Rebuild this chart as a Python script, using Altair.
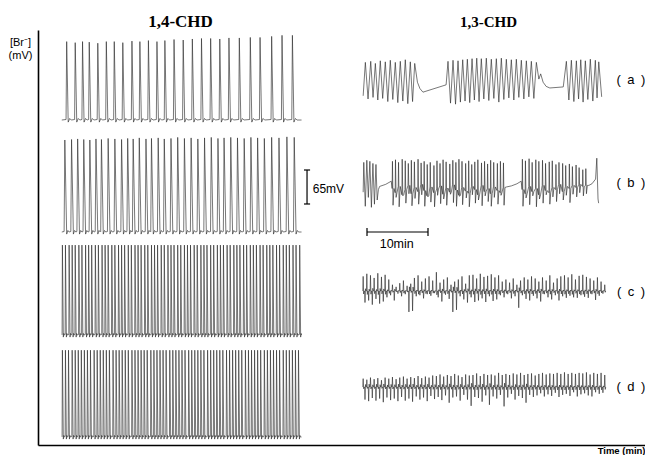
import altair as alt
import pandas as pd

# ---------------- values ----------------
# time in minutes (origin at the vertical axis), potential in mV (origin at the time axis)

# 1,4-CHD, row 1: spike times and spike heights above the trace baseline
T1_TIMES = [4.7, 6.1, 7.3, 8.4, 9.8, 11.2, 12.5, 13.9, 15.4, 16.7, 18.1, 19.5, 20.8,
            22.3, 23.8, 25.3, 26.8, 28.3, 29.8, 31.3, 33.0, 34.8, 36.4, 38.3, 40.0, 41.7]
T1_PEAKS = [150, 148, 150, 149, 147, 150, 150, 148, 151, 150, 152, 150, 152,
            154, 153, 155, 156, 156, 155, 157, 157, 158, 158, 160, 162, 162]

# 1,4-CHD, row 2
T2_TIMES = [4.4, 5.5, 6.5, 7.5, 8.5, 9.5, 10.4, 11.5, 12.6, 13.7, 14.7, 15.6, 16.6,
            17.7, 18.6, 19.7, 20.7, 21.8, 22.9, 24.0, 25.1, 26.2, 27.3, 28.4, 29.5,
            30.5, 31.6, 32.7, 33.8, 34.9, 36.0, 37.1, 38.3, 39.5, 40.8, 42.0]
T2_PEAKS = [176, 177, 178, 177, 176, 178, 177, 179, 178, 177, 179, 178, 180, 178, 179,
            180, 178, 179, 181, 179, 180, 178, 180, 181, 179, 180, 181, 180, 179, 181,
            180, 179, 181, 180, 182, 181]

# 1,4-CHD, row 3
T3_TIMES = [4.0, 4.5, 5.1, 5.6, 6.1, 6.7, 7.2, 7.8, 8.3, 8.8, 9.4, 9.9, 10.5, 11.0, 11.5,
            12.1, 12.6, 13.2, 13.7, 14.2, 14.8, 15.3, 15.9, 16.4, 16.9, 17.5, 18.0, 18.6,
            19.1, 19.6, 20.2, 20.7, 21.3, 21.8, 22.3, 22.9, 23.4, 24.0, 24.5, 25.0, 25.6,
            26.1, 26.7, 27.2, 27.7, 28.3, 28.8, 29.4, 29.9, 30.4, 31.0, 31.5, 32.1, 32.6,
            33.1, 33.7, 34.2, 34.8, 35.3, 35.8, 36.4, 36.9, 37.5, 38.0, 38.5, 39.1, 39.6,
            40.2, 40.7, 41.2, 41.8, 42.3, 42.9]
T3_PEAK = 172

# 1,4-CHD, row 4
T4_TIMES = [4.0, 4.5, 5.0, 5.6, 6.1, 6.6, 7.1, 7.6, 8.1, 8.6, 9.2, 9.7, 10.2, 10.7, 11.2,
            11.7, 12.3, 12.8, 13.3, 13.8, 14.3, 14.8, 15.4, 15.9, 16.4, 16.9, 17.4, 17.9,
            18.5, 19.0, 19.5, 20.0, 20.5, 21.0, 21.6, 22.1, 22.6, 23.1, 23.6, 24.1, 24.7,
            25.2, 25.7, 26.2, 26.7, 27.2, 27.8, 28.3, 28.8, 29.3, 29.8, 30.3, 30.9, 31.4,
            31.9, 32.4, 32.9, 33.4, 34.0, 34.5, 35.0, 35.5, 36.0, 36.5, 37.1, 37.6, 38.1,
            38.6, 39.1, 39.6, 40.2, 40.7, 41.2, 41.7, 42.2, 42.7]
T4_PEAK = 166

# 1,3-CHD (a): recorded trace, mV above the trace reference level
A_T = [53.3, 53.66, 54.1, 54.54, 54.92, 55.3, 55.7, 56.11, 56.5, 56.93, 57.34, 57.75,
       58.16, 58.57, 58.98, 59.39, 59.8, 60.21, 60.62, 61.03, 61.4, 61.75,
       62.2, 62.6, 63.1, 66.9,
       67.21, 67.62, 68.03, 68.44, 68.85, 69.24, 69.62, 70.0, 70.38, 70.77,
       71.15, 71.53, 71.92, 72.3, 72.67, 73.08, 73.49, 73.9, 74.31, 74.72,
       75.13, 75.54, 75.95, 76.36, 76.77, 77.18, 77.59, 78.0, 78.41, 78.82,
       79.23, 79.64, 80.05, 80.46, 80.87, 81.28, 81.69,
       82.1, 82.4, 82.8, 83.3, 83.9, 86.1,
       86.61, 87.02, 87.43, 87.84, 88.25, 88.61, 88.97, 89.35, 89.72, 90.13,
       90.54, 90.95, 91.36, 91.64, 91.92, 92.4]
A_V = [8, 72, 2, 74, 5, 70, 0, 75, 3, 73, -3, 76, 1, 72, -5, 74, -2, 77, -7, 73, -3, 70,
       34, 22, 15, 29,
       74, -6, 76, -8, 75, -4, 77, -2, 78, -5, 79, 0, 80, -3, 79, 2, 80, -1, 78, 3,
       79, -4, 80, 1, 78, 4, 77, 0, 78, 5, 76, 2, 75, 6, 74, 3, 72,
       40, 50, 34, 26, 23, 25,
       74, 0, 76, -3, 75, 2, 77, -4, 75, 1, 78, -2, 76, 4, 73, 6]

# 1,3-CHD (b)
B_PRE_T = [53.3, 53.4, 53.65, 53.9, 54.15, 54.4, 54.65, 54.9, 55.15, 55.4, 55.6, 55.8, 56.0, 57.0, 57.9]
B_PRE_V = [15, 72, -12, 76, 5, 74, -14, 70, -8, 68, 0, 20, 26, 30, 36]
B1_TIMES = [58.1, 58.6, 59.1, 59.7, 60.2, 60.7, 61.2, 61.7, 62.3, 62.8, 63.3, 63.8, 64.3,
            64.9, 65.4, 65.9, 66.4, 66.9, 67.5, 68.0, 68.5, 69.0, 69.5, 70.1, 70.6, 71.1,
            71.6, 72.1, 72.7, 73.2, 73.7, 74.2, 74.7, 75.3, 75.8, 76.3]
B1_PEAKS = [74, 77, 72, 78, 75, 70, 76, 73, 78, 71, 74, 68, 72, 66, 75, 70, 77, 73, 69, 76,
            72, 78, 74, 70, 75, 68, 73, 77, 71, 74, 69, 76, 72, 70, 74, 71]
B1_LOWS = [-10, 5, -13, 8, -6, 12, -11, 3, -8, 10, -12, 6, -4, -13, 9, -7, 2, -10, 11, -5,
           -12, 7, -9, 4, -13, 10, -6, 0, -11, 8, -3, -12, 5, -8, 9, -10]
B1_MIDS = [22, 14, 26, 10, 20, 28, 12, 24, 16, 30, 18, 8, 25, 14, 21, 27, 11, 23, 15, 29,
           19, 9, 24, 17, 13, 26, 20, 10, 28, 16, 22, 12, 25, 18, 14, 24]
B_MID_T = [76.8, 77.6, 78.5, 79.2]
B_MID_V = [25, 27, 31, 36]
B2_TIMES = [79.4, 79.9, 80.5, 81.0, 81.6, 82.1, 82.7, 83.2, 83.8, 84.3, 84.9, 85.4, 86.0,
            86.5, 87.1, 87.6, 88.2, 88.7, 89.3, 89.8]
B2_PEAKS = [78, 75, 79, 72, 77, 74, 76, 70, 73, 75, 68, 72, 70, 66, 69, 64, 67, 62, 58, 60]
B2_LOWS = [-12, 4, -9, 8, -13, 2, -6, 10, -8, 6, -3, 12, 0, 9, -5, 11, 6, 14, 8, 12]
B2_MIDS = [20, 12, 26, 16, 22, 10, 28, 18, 14, 24, 20, 30, 16, 26, 22, 28, 24, 30, 26, 28]
B_END_T = [90.3, 90.8, 91.4, 91.6, 91.8, 91.9]
B_END_V = [28, 31, 40, 80, 2, -6]

# 1,3-CHD (c) and (d): spike extremes sampled every C_STEP minutes from C_T0
C_T0 = 53.3
C_STEP = 0.3
C_VALUES = [28, -22, 33, -18, 30, -26, 25, -15, 34, -24,
            27, -20, 31, -12, 22, -8, 12, -18, 8, -5,
            15, -10, 20, -6, 10, -40, 14, -38, 25, -10,
            30, -8, 18, -14, 24, -6, 28, -9, 20, -4,
            36, -12, 16, -20, 22, -7, 26, -15, 12, -40,
            18, -36, 22, -10, 28, -16, 14, -22, 30, -12,
            31, -21, 24, -18, 33, -14, 27, -21, 29, -10,
            32, -19, 26, -16, 30, -8, 18, -12, 22, -6,
            16, -14, 24, -10, 12, -32, 20, -8, 26, -15,
            22, -18, 28, -9, 24, -14, 18, -20, 26, -6,
            20, -12, 30, -16, 16, -8, 24, -18, 28, -10,
            30, -13, 26, -9, 32, -12, 22, -13, 29, -8,
            31, -11, 27, -13, 24, -6, 20, -17, 26, -9,
            18, -5, 12]
D_VALUES = [16, -24, 14, -27, 18, -21, 15, -26, 17, -22,
            13, -29, 18, -20, 16, -25, 19, -22, 15, -27,
            18, -19, 20, -26, 16, -22, 19, -28, 17, -18,
            21, -24, 17, -20, 20, -27, 18, -17, 22, -23,
            21, -19, 24, -25, 20, -16, 23, -30, 21, -20,
            25, -18, 22, -26, 19, -15, 24, -24, 22, -36,
            23, -19, 26, -21, 21, -28, 25, -16, 23, -34,
            24, -18, 22, -22, 27, -15, 23, -37, 25, -20,
            23, -13, 26, -24, 24, -17, 27, -21, 23, -30,
            25, -15, 26, -19, 22, -16, 25, -12, 27, -18,
            24, -14, 26, -17, 25, -11, 27, -19, 25, -15,
            28, -13, 25, -17, 27, -10, 25, -18, 27, -14,
            26, -12, 28, -16, 24, -18, 27, -10, 25, -13,
            27, -11, 23]

SCALE_MV = 65      # vertical scale bar
SCALE_MIN = 10     # horizontal scale bar

# ---------------- layout (trace reference levels on the shared axes) ----------------
ROW_BASE = {"r1": 631.2, "r2": 417.0, "r3": 220.0, "r4": 24.9}
RIGHT_BASE = {"a": 669.5, "b": 478.2, "c": 304.1, "d": 120.5}
LEFT_START, LEFT_END = 3.9, 43.2

rows = []


def add(trace, pts):
    for i, (t, v) in enumerate(pts):
        rows.append({"trace": trace, "i": i, "t": round(t, 3), "v": round(v, 2)})


def spike_train(times, peaks, base, r, f, h):
    pts = [(LEFT_START, base)]
    for t, p in zip(times, peaks):
        pts += [(t - r, base + 1), (t, base + p), (t + f, base - 4),
                (t + f + h, base + 3), (t + f + 2 * h, base)]
    pts.append((LEFT_END, base))
    return pts


add("r1", spike_train(T1_TIMES, T1_PEAKS, ROW_BASE["r1"], 0.1, 0.25, 0.25))
add("r2", spike_train(T2_TIMES, T2_PEAKS, ROW_BASE["r2"], 0.12, 0.3, 0.2))
add("r3", spike_train(T3_TIMES, [T3_PEAK] * len(T3_TIMES), ROW_BASE["r3"], 0.05, 0.15, 0.08))
add("r4", spike_train(T4_TIMES, [T4_PEAK] * len(T4_TIMES), ROW_BASE["r4"], 0.05, 0.15, 0.08))

add("a", [(t, RIGHT_BASE["a"] + v) for t, v in zip(A_T, A_V)])


def burst(times, peaks, lows, mids, base):
    pts = []
    for k, (t, p, lo, m) in enumerate(zip(times, peaks, lows, mids)):
        g = (times[k + 1] - t) if k + 1 < len(times) else (t - times[k - 1])
        pts += [(t - 0.05, base + m), (t, base + p), (t + 0.1, base + lo),
                (t + 0.3 * g + 0.1, base + m)]
    return pts


bb = RIGHT_BASE["b"]
b_pts = [(t, bb + v) for t, v in zip(B_PRE_T, B_PRE_V)]
b_pts += burst(B1_TIMES, B1_PEAKS, B1_LOWS, B1_MIDS, bb)
b_pts += [(t, bb + v) for t, v in zip(B_MID_T, B_MID_V)]
b_pts += burst(B2_TIMES, B2_PEAKS, B2_LOWS, B2_MIDS, bb)
b_pts += [(t, bb + v) for t, v in zip(B_END_T, B_END_V)]
add("b", b_pts)


def noisy(values, base):
    pts = []
    for k, v in enumerate(values):
        t = C_T0 + C_STEP * k
        pts += [(t - 0.06, base), (t, base + v), (t + 0.08, base - 0.2 * v), (t + 0.16, base)]
    return pts


add("c", noisy(C_VALUES, RIGHT_BASE["c"]))
add("d", noisy(D_VALUES, RIGHT_BASE["d"]))

traces = pd.DataFrame(rows)

# scale bars
bar_t, bar_v = 44.1, 470.6
hb_t, hb_v = 53.93, 417.0
bars = pd.DataFrame([
    {"t": bar_t, "t2": bar_t, "v": bar_v, "v2": bar_v + SCALE_MV},
    {"t": bar_t - 0.5, "t2": bar_t + 0.5, "v": bar_v, "v2": bar_v},
    {"t": bar_t - 0.5, "t2": bar_t + 0.5, "v": bar_v + SCALE_MV, "v2": bar_v + SCALE_MV},
    {"t": hb_t, "t2": hb_t + SCALE_MIN, "v": hb_v, "v2": hb_v},
    {"t": hb_t, "t2": hb_t, "v": hb_v - 7.7, "v2": hb_v + 7.7},
    {"t": hb_t + SCALE_MIN, "t2": hb_t + SCALE_MIN, "v": hb_v - 7.7, "v2": hb_v + 7.7},
])

titles = pd.DataFrame([
    {"label": "1,4-CHD", "t": 23.36, "v": 810.0, "size": 17},
    {"label": "1,3-CHD", "t": 73.85, "v": 810.0, "size": 15},
])
labels = pd.DataFrame([
    {"label": f"{SCALE_MV}mV", "t": 47.6, "v": 499.2, "size": 12},
    {"label": f"{SCALE_MIN}min", "t": 58.8, "v": 394.0, "size": 12.5},
    {"label": "(\u2002a\u2002)", "t": 97.2, "v": 707.7, "size": 13},
    {"label": "(\u2002b\u2002)", "t": 97.2, "v": 510.7, "size": 13},
    {"label": "(\u2002c\u2002)", "t": 97.2, "v": 302.2, "size": 13},
    {"label": "(\u2002d\u2002)", "t": 97.2, "v": 120.5, "size": 13},
])

# the time axis sits at the bottom edge of the plot; top of the plot is 803.4 mV
xs = alt.Scale(domain=[0, 99.5], nice=False, zero=False)
ys = alt.Scale(domain=[9.6, 803.4], nice=False, zero=False)
x_axis = alt.Axis(title="Time (min)", ticks=False, labels=False, grid=False,
                  domainColor="black", domainWidth=1.6,
                  titleFont="Liberation Sans", titleFontSize=9.5, titleFontWeight="bold",
                  titleColor="black", titleX=607, titleY=8, titleAlign="right",
                  titleBaseline="alphabetic")
y_axis = alt.Axis(title=["[Br\u207b]", "(mV)"], ticks=False, labels=False, grid=False,
                  domainColor="black", domainWidth=1.6, titleAngle=0, titleX=-18,
                  titleY=6, titleAlign="center", titleBaseline="top",
                  titleFont="Liberation Sans", titleFontSize=11, titleFontWeight="normal",
                  titleColor="black", titleLineHeight=13)


def X(f):
    return alt.X(f, type="quantitative", scale=xs, axis=x_axis)


def Y(f):
    return alt.Y(f, type="quantitative", scale=ys, axis=y_axis)


line_layer = alt.Chart(traces).mark_line(color="#2b2b2b", strokeWidth=0.75, opacity=0.85).encode(
    x=X("t"), y=Y("v"), detail="trace:N", order="i:Q")

bar_layer = alt.Chart(bars).mark_rule(color="black", strokeWidth=1.2).encode(
    x=X("t"), x2="t2:Q", y=Y("v"), y2="v2:Q")

title_layer = alt.Chart(titles).mark_text(font="Liberation Serif", fontWeight="bold",
                                          align="center", baseline="alphabetic",
                                          color="black").encode(
    x=X("t"), y=Y("v"), text="label:N", size=alt.Size("size:Q", scale=None, legend=None))

label_layer = alt.Chart(labels).mark_text(font="Liberation Sans", align="center",
                                          baseline="middle", color="black").encode(
    x=X("t"), y=Y("v"), text="label:N", size=alt.Size("size:Q", scale=None, legend=None))

chart = alt.layer(line_layer, bar_layer, title_layer, label_layer).properties(
    width=607, height=415,
    autosize=alt.AutoSizeParams(type="none"),
    padding={"left": 30, "top": 22, "right": 0, "bottom": 10},
).configure_view(stroke=None)

chart.save("out.html", embed_options={"renderer": "svg", "actions": False})
